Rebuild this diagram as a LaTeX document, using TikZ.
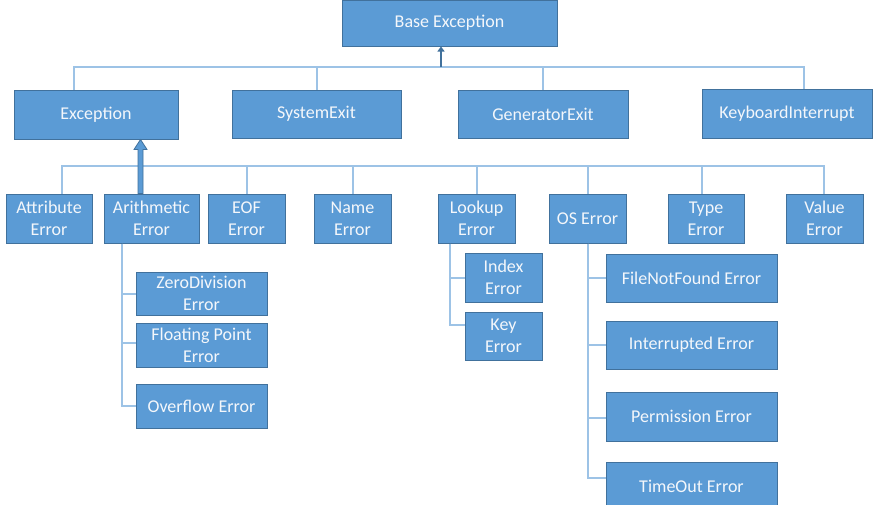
\documentclass[tikz,border=0pt]{standalone}
\usepackage{fontspec}
\setmainfont{Carlito}
\usetikzlibrary{arrows.meta,calc}
\definecolor{boxfill}{HTML}{5B9BD5}
\definecolor{boxline}{HTML}{41719C}
\definecolor{wirecol}{HTML}{9DC3E6}
\definecolor{txt}{HTML}{F4F7FB}
\begin{document}
\begin{tikzpicture}[x=1pt,y=-1pt,
  ebox/.style={draw=boxline, line width=1pt, fill=boxfill, text=txt, inner sep=0pt, align=center,
    font=\fontsize{18}{22}\selectfont},
  wire/.style={draw=wirecol, line width=2pt}]
\useasboundingbox (0,0) rectangle (881,504);
\fill[white] (0,0) rectangle (881,504);

% level 0
\node[ebox, minimum width=215pt, minimum height=46pt] (base) at (449.5,23) {Base Exception};
% level 1
\node[ebox, minimum width=164pt, minimum height=49pt] (exc) at (96,114.5) {Exception};
\node[ebox, minimum width=169pt, minimum height=48pt] (sys) at (316.5,114) {SystemExit};
\node[ebox, minimum width=170pt, minimum height=48pt] (gen) at (543,114) {GeneratorExit};
\node[ebox, minimum width=170pt, minimum height=49pt] (kbd) at (787,113.5) {KeyboardInterrupt};
% level 2
\node[ebox, minimum width=86pt, minimum height=49pt] (attr) at (49,218.5) {Attribute\\Error};
\node[ebox, minimum width=95pt, minimum height=49pt] (arith) at (151.5,218.5) {Arithmetic\\Error};
\node[ebox, minimum width=77pt, minimum height=49pt] (eof) at (246.5,218.5) {EOF\\Error};
\node[ebox, minimum width=77pt, minimum height=49pt] (name) at (352.5,218.5) {Name\\Error};
\node[ebox, minimum width=77pt, minimum height=49pt] (lookup) at (476.5,218.5) {Lookup\\Error};
\node[ebox, minimum width=77pt, minimum height=49pt] (os) at (587.5,218.5) {OS Error};
\node[ebox, minimum width=76pt, minimum height=49pt] (type) at (706,218.5) {Type\\Error};
\node[ebox, minimum width=77pt, minimum height=49pt] (value) at (824.5,218.5) {Value\\Error};
% level 3
\node[ebox, minimum width=131pt, minimum height=43pt] (zero) at (201.5,293.5) {ZeroDivision\\Error};
\node[ebox, minimum width=131pt, minimum height=44pt] (float) at (201.5,345) {Floating Point\\Error};
\node[ebox, minimum width=131pt, minimum height=44pt] (over) at (201.5,406) {Overflow Error};
\node[ebox, minimum width=77pt, minimum height=49pt] (index) at (503.5,277.5) {Index\\Error};
\node[ebox, minimum width=77pt, minimum height=48pt] (key) at (503.5,336) {Key\\Error};
\node[ebox, minimum width=171pt, minimum height=48pt] (fnf) at (691.5,278) {FileNotFound Error};
\node[ebox, minimum width=171pt, minimum height=48pt] (intr) at (691.5,345) {Interrupted Error};
\node[ebox, minimum width=171pt, minimum height=49pt] (perm) at (691.5,416.5) {Permission Error};
\node[ebox, minimum width=171pt, minimum height=48pt] (tout) at (691.5,486) {TimeOut Error};

% level 1 bus
\coordinate (b1L) at (74,67);
\coordinate (b1R) at (804,67);
\draw[wire] (exc.north -| b1L) -- (b1L) -- (b1R) -- (kbd.north -| b1R);
\draw[wire] (sys.north) -- (sys.north |- b1L);
\draw[wire] (gen.north) -- (gen.north |- b1L);
\coordinate (barr) at (441,67);
\draw[boxline, line width=2.5pt, -{Triangle[length=5pt,width=7pt]}] (barr) -- (barr |- base.south);

% level 2 bus
\coordinate (b2L) at (62,166);
\coordinate (b2R) at (824,166);
\draw[wire] (attr.north -| b2L) -- (b2L) -- (b2R) -- (value.north -| b2R);
\foreach \n in {eof,name,lookup,os}{\draw[wire] (\n.north) -- (\n.north |- b2L);}
\draw[wire] ([xshift=-4pt]type.north) -- ([xshift=-4pt]type.north |- b2L);

% thick arrow Arithmetic -> Exception
\path (arith.north west) ++(37,0) coordinate (a1);
\coordinate (a2) at (a1 |- exc.south);
\filldraw[fill=boxfill, draw=boxline, line width=0.8pt]
  ($(a1)+(-2.5,0)$) -- ($(a2)+(-2.5,10)$) -- ($(a2)+(-6.5,10)$) -- (a2)
  -- ($(a2)+(6.5,10)$) -- ($(a2)+(2.5,10)$) -- ($(a1)+(2.5,0)$) -- cycle;

% Arithmetic children
\path (arith.south west) ++(18,0) coordinate (av);
\draw[wire] (av) |- (zero.west);
\draw[wire] (av) |- ([yshift=2pt]float.west);
\draw[wire] (av) |- (over.west);

% Lookup children
\path (lookup.south west) ++(12,0) coordinate (lv);
\draw[wire] (lv) |- (index.west);
\draw[wire] (lv) |- ([yshift=11pt]key.west);

% OS children
\draw[wire] (os.south) |- (fnf.west);
\draw[wire] (os.south) |- (intr.west);
\draw[wire] (os.south) |- ([yshift=-1.5pt]perm.west);
\draw[wire] (os.south) |- ([yshift=8pt]tout.west);
\end{tikzpicture}
\end{document}
